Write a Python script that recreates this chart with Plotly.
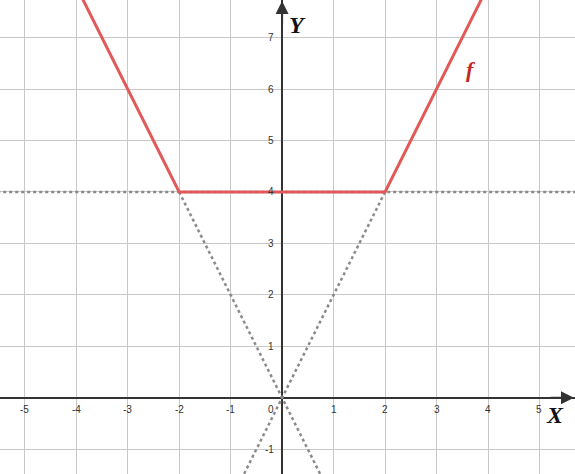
import plotly.graph_objects as go

# Data
f_x = [-4.5, -2, 2, 4.5]
f_y = [9, 4, 4, 9]
v1_x = [-2, 1]
v1_y = [4, -2]
v2_x = [2, -1]
v2_y = [4, -2]
h_x = [-6, 6]
h_y = [4, 4]
x_ticks = [-5, -4, -3, -2, -1, 0, 1, 2, 3, 4, 5]
y_ticks = [-1, 1, 2, 3, 4, 5, 6, 7]

X_RANGE = [-5.48, 5.69]
Y_RANGE = [-1.48, 7.73]

fig = go.Figure()
dot_style = dict(color="#8a8a8a", width=2.5, dash="dot")
fig.add_trace(go.Scatter(x=h_x, y=h_y, mode="lines", line=dot_style, hoverinfo="skip"))
fig.add_trace(go.Scatter(x=v1_x, y=v1_y, mode="lines", line=dot_style, hoverinfo="skip"))
fig.add_trace(go.Scatter(x=v2_x, y=v2_y, mode="lines", line=dot_style, hoverinfo="skip"))
fig.add_trace(go.Scatter(x=f_x, y=f_y, mode="lines", line=dict(color="#e05a5a", width=3), hoverinfo="skip"))

annotations = []
tick_font = dict(family="Arial, Liberation Sans, sans-serif", size=10, color="#333333")
for t in x_ticks:
    annotations.append(dict(x=t, y=0, xref="x", yref="y", text=str(t), showarrow=False,
                            xanchor="right" if t == 0 else "center", yanchor="top",
                            xshift=-6 if t == 0 else 0, yshift=-4, font=tick_font))
for t in y_ticks:
    annotations.append(dict(x=0, y=t, xref="x", yref="y", text=str(t), showarrow=False,
                            xanchor="right", yanchor="middle", xshift=-6, font=tick_font))

# axis arrows
annotations.append(dict(x=X_RANGE[1] - 0.02, y=0, ax=X_RANGE[1] - 0.5, ay=0, xref="x", yref="y",
                        axref="x", ayref="y", text="", showarrow=True, arrowhead=2,
                        arrowsize=1.3, arrowwidth=2, arrowcolor="#333333"))
annotations.append(dict(x=0, y=Y_RANGE[1] - 0.02, ax=0, ay=Y_RANGE[1] - 0.5, xref="x", yref="y",
                        axref="x", ayref="y", text="", showarrow=True, arrowhead=2,
                        arrowsize=1.3, arrowwidth=2, arrowcolor="#333333"))

label_font = dict(family="Liberation Serif, Times New Roman, serif", size=24, color="#111111")
annotations.append(dict(x=0.29, y=7.24, xref="x", yref="y", text="<b><i>Y</i></b>",
                        showarrow=False, font=label_font))
annotations.append(dict(x=5.3, y=-0.34, xref="x", yref="y", text="<b><i>X</i></b>",
                        showarrow=False, font=label_font))
annotations.append(dict(x=3.67, y=6.37, xref="x", yref="y", text="<b><i>f</i></b>",
                        showarrow=False,
                        font=dict(family="Liberation Serif, Times New Roman, serif", size=22, color="#c02828")))

fig.update_layout(
    width=575, height=474, autosize=False,
    margin=dict(l=0, r=0, t=0, b=0),
    plot_bgcolor="white", paper_bgcolor="white",
    showlegend=False,
    annotations=annotations,
    xaxis=dict(range=X_RANGE, dtick=1, tick0=0, showgrid=True, gridcolor="#c8c8c8", gridwidth=1,
               zeroline=True, zerolinecolor="#333333", zerolinewidth=2,
               showticklabels=False, ticks="", fixedrange=True),
    yaxis=dict(range=Y_RANGE, dtick=1, tick0=0, showgrid=True, gridcolor="#c8c8c8", gridwidth=1,
               zeroline=True, zerolinecolor="#333333", zerolinewidth=2,
               showticklabels=False, ticks="", fixedrange=True),
)

fig.write_html("out.html", config={"displayModeBar": False},
               post_script="document.body.style.margin='0';document.body.style.overflow='hidden';")
